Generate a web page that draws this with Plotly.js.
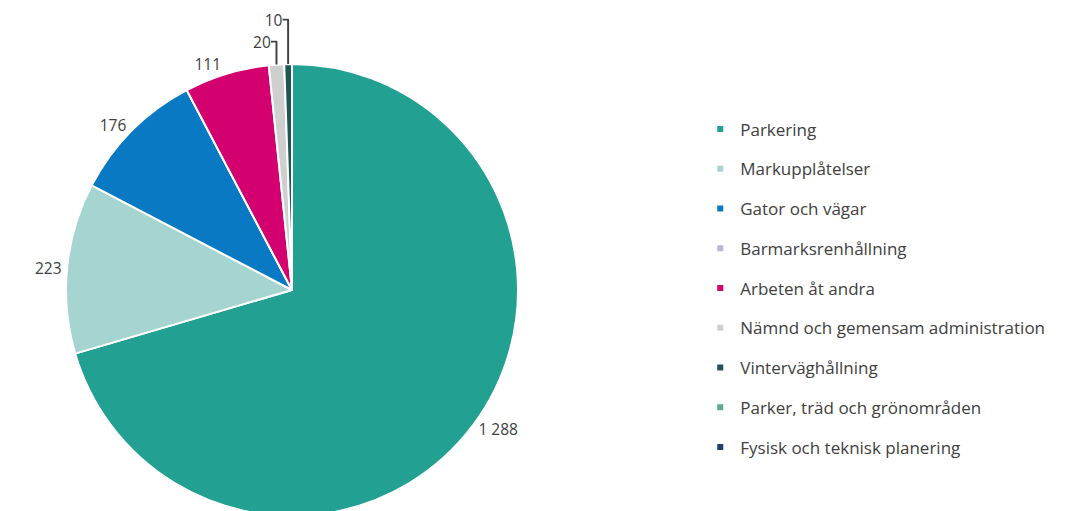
<!DOCTYPE html>
<html><head><meta charset="utf-8">
<script src="https://cdn.plot.ly/plotly-3.0.1.min.js"></script>
<style>html,body{margin:0;padding:0;overflow:hidden;background:#fff}#chart{width:1074px;height:540px}</style>
</head><body><div id="chart"></div>
<script>
const categories = ["Parkering","Markupplåtelser","Gator och vägar","Barmarksrenhållning","Arbeten åt andra","Nämnd och gemensam administration","Vinterväghållning","Parker, träd och grönområden","Fysisk och teknisk planering"];
const values = [1288, 223, 176, 0, 111, 20, 10, 0, 0];
const colors = ["#22a091","#a6d5d1","#0a79c4","#bab6d9","#d4006f","#cfcfcf","#1f5552","#5fa898","#1d3f73"];

const labelFont = {family:"Open Sans, sans-serif", size:15.5, color:"#404040"};

const pie = {
  type:"pie", labels:categories, values:values, sort:false, direction:"clockwise", rotation:0,
  marker:{colors:colors, line:{color:"#ffffff", width:2}},
  textposition:"outside", texttemplate:values.map(v => v > 0 ? "%{value:,}" : ""), textfont:labelFont,
  showlegend:false, hoverinfo:"label+value",
  domain:{x:[66/1074, 518/1074], y:[24/540, 476/540]}
};

const legendTraces = categories.map((c,i)=>({
  type:"scatter", mode:"markers", x:[null], y:[null], name:c, legendgroup:"g"+i,
  marker:{symbol:"square", size:6, color:colors[i]}, showlegend:true, hoverinfo:"skip"
}));

const layout = {
  width:1074, height:540, margin:{l:0,r:0,t:0,b:0},
  paper_bgcolor:"#fff", plot_bgcolor:"#fff",
  separators:", ",
  xaxis:{visible:false, domain:[0.99,1]}, yaxis:{visible:false, domain:[0.99,1]},
  showlegend:true,
  legend:{x:0.652, y:(540-111.5)/540, xanchor:"left", yanchor:"top", traceorder:"grouped", tracegroupgap:14.65,
    font:{family:"Open Sans, sans-serif", size:17, color:"#404040"}, itemwidth:30, bgcolor:"rgba(0,0,0,0)"}
};
Plotly.newPlot("chart", [pie, ...legendTraces], layout, {displayModeBar:false, staticPlot:true});
</script></body></html>
